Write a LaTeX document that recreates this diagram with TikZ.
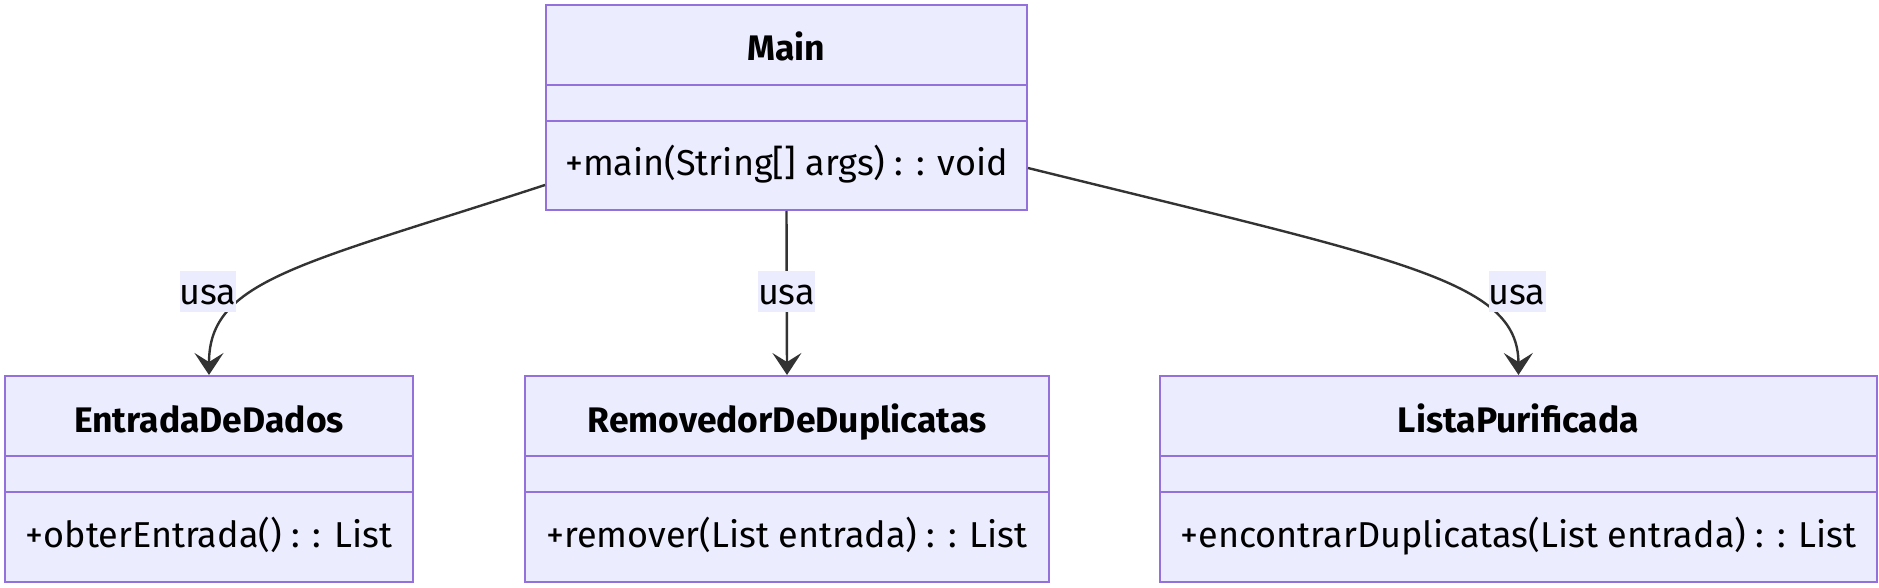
\documentclass[tikz,border=0pt]{standalone}
\usepackage{fontspec}
\setmainfont{Fira Sans}
\usepackage{xcolor}
\usetikzlibrary{arrows.meta}
\usetikzlibrary{positioning}

\definecolor{umlfill}{HTML}{ECECFF}
\definecolor{umlborder}{HTML}{9370DB}
\definecolor{umlline}{HTML}{333333}

\begin{document}
\begin{tikzpicture}[x=1pt, y=-1pt,
  classbox/.style={draw=umlborder, fill=umlfill, line width=2pt, inner sep=0pt},
  divider/.style={draw=umlborder, line width=2pt},
  titletext/.style={font=\bfseries\fontsize{35.5}{42}\selectfont, anchor=base},
  membertext/.style={font=\fontsize{36}{43}\selectfont, anchor=base},
  edgelabel/.style={fill=umlfill, font=\fontsize{36}{43}\selectfont, inner sep=0pt,
    text height=26pt, text depth=0pt, minimum width=54pt, minimum height=41pt},
  uses/.style={draw=umlline, line width=2.4pt, -{Stealth[length=22pt, width=29pt, inset=9pt]}}]
  \useasboundingbox (0,0) rectangle (1879,588);

  % Main
  \node[classbox, minimum width=481pt, minimum height=205pt] (main) at (786.5,107.5) {};
  \draw[divider] ([yshift=-81pt]main.north west) -- ([yshift=-81pt]main.north east);
  \draw[divider] ([yshift=-117pt]main.north west) -- ([yshift=-117pt]main.north east);
  \node[titletext] (main-name) at ([yshift=-57pt]main.north) {Main};
  \node[membertext] (main-ops) at ([yshift=-172pt]main.north) {+main(String[] args) : : void};

  % EntradaDeDados
  \node[classbox, minimum width=408pt, minimum height=206pt] (entrada) at (209,479) {};
  \draw[divider] ([yshift=-81pt]entrada.north west) -- ([yshift=-81pt]entrada.north east);
  \draw[divider] ([yshift=-117pt]entrada.north west) -- ([yshift=-117pt]entrada.north east);
  \node[titletext] (entrada-name) at ([yshift=-57pt]entrada.north) {EntradaDeDados};
  \node[membertext] (entrada-ops) at ([yshift=-172pt]entrada.north) {+obterEntrada() : : List};

  % RemovedorDeDuplicatas
  \node[classbox, minimum width=524pt, minimum height=206pt] (remover) at (787,479) {};
  \draw[divider] ([yshift=-81pt]remover.north west) -- ([yshift=-81pt]remover.north east);
  \draw[divider] ([yshift=-117pt]remover.north west) -- ([yshift=-117pt]remover.north east);
  \node[titletext] (remover-name) at ([yshift=-57pt]remover.north) {RemovedorDeDuplicatas};
  \node[membertext] (remover-ops) at ([yshift=-172pt]remover.north) {+remover(List entrada) : : List};

  % ListaPurificada
  \node[classbox, minimum width=717pt, minimum height=206pt] (lista) at (1518.5,479) {};
  \draw[divider] ([yshift=-81pt]lista.north west) -- ([yshift=-81pt]lista.north east);
  \draw[divider] ([yshift=-117pt]lista.north west) -- ([yshift=-117pt]lista.north east);
  \node[titletext] (lista-name) at ([yshift=-57pt]lista.north) {ListaPurificada};
  \node[membertext] (lista-ops) at ([yshift=-172pt]lista.north) {+encontrarDuplicatas(List entrada) : : List};

  % dependencies
  \draw[uses] ([yshift=-181pt]main.north west) .. controls (300,265) and (209,280) .. (entrada.north);
  \draw[uses] (main.south) -- (remover.north);
  \draw[uses] ([yshift=-164pt]main.north east) .. controls (1400,260) and (1518,280) .. (lista.north);
  \node[edgelabel] (usa-entrada) at (208,291) {usa};
  \node[edgelabel] (usa-remover) at (786.5,291.5) {usa};
  \node[edgelabel] (usa-lista) at (1517,291) {usa};
\end{tikzpicture}
\end{document}
